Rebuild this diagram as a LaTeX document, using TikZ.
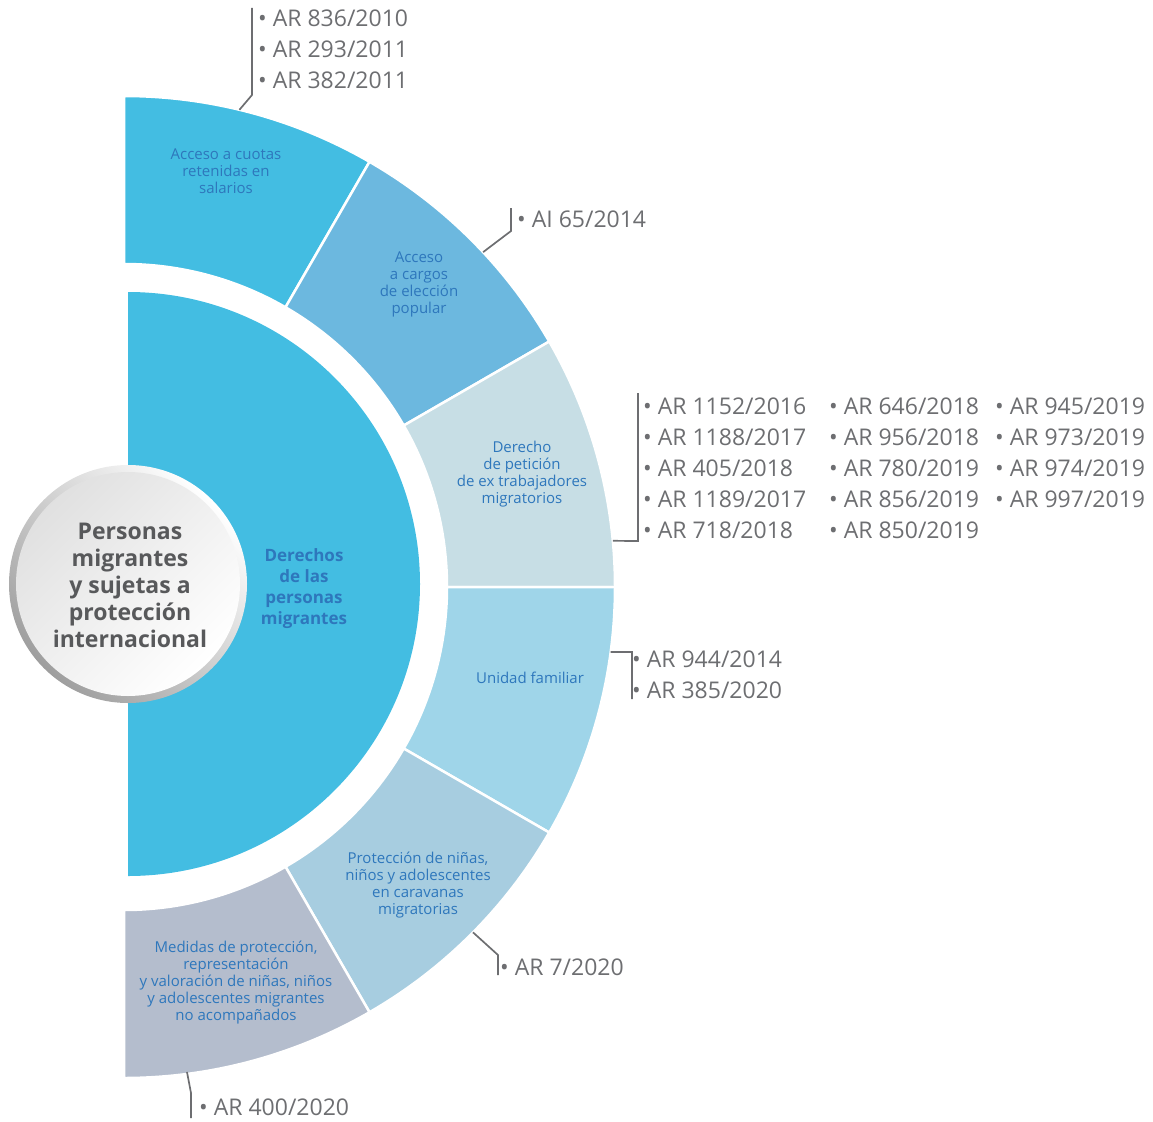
\documentclass[tikz,border=0pt]{standalone}
\usepackage{fontspec}
\setmainfont{Open Sans}
\definecolor{ringcyan}{HTML}{43BDE2}
\definecolor{cargoscol}{HTML}{6CB8DF}
\definecolor{peticioncol}{HTML}{C7DEE5}
\definecolor{unidadcol}{HTML}{9FD5E9}
\definecolor{proteccol}{HTML}{A7CDE0}
\definecolor{medidascol}{HTML}{B4BDCD}
\definecolor{segblue}{HTML}{2E77BC}
\definecolor{labelgray}{HTML}{6D6E71}
\definecolor{circgray}{HTML}{58595B}
\newcommand\ringsec[3]{%
  \fill[#3, draw=white, line width=2.5pt] (#1:323) arc[start angle=#1, end angle=#2, radius=323]
    -- (#2:491) arc[start angle=#2, end angle=#1, radius=491] -- cycle;}
\begin{document}
\begin{tikzpicture}[x=1pt,y=1pt,
  lbl/.style={anchor=base west, text=labelgray, font=\fontsize{23}{28}\selectfont, inner sep=0pt},
  segtext/.style={align=center, text=segblue, font=\fontsize{15}{17}\selectfont, inner sep=0pt},
  conn/.style={draw=labelgray, line width=1.7pt, line join=miter}]
\useasboundingbox (0,0) rectangle (1153,-1121);
% central half disc
\fill[ringcyan] (128,-292) arc[start angle=90, end angle=-90, radius=292] -- cycle;
% ring
\begin{scope}[shift={(124,-587)}]
\ringsec{60}{90}{ringcyan}
\ringsec{30}{60}{cargoscol}
\ringsec{0}{30}{peticioncol}
\ringsec{-30}{0}{unidadcol}
\ringsec{-60}{-30}{proteccol}
\ringsec{-90}{-60}{medidascol}
\coordinate (c1a) at (76.4:491);
\coordinate (c2a) at (43:491);
\coordinate (c3a) at (5.4:491);
\coordinate (c4a) at (-7.6:491);
\coordinate (c5a) at (-44.7:491);
\coordinate (c6a) at (-82.6:489);
\end{scope}
% small circle
\shade[shading=axis, top color=white, bottom color=black!38, shading angle=-45] (128,-584) circle[radius=119];
\shade[shading=axis, top color=black!12, bottom color=white, shading angle=45] (128,-584) circle[radius=112];
\node[align=center, text=circgray, font=\bfseries\fontsize{23}{27}\selectfont, inner sep=0pt] (circ) at (130,-585)
  {Personas\\migrantes\\y sujetas a\\protección\\internacional};
% segment texts
\node[segtext, font=\bfseries\fontsize{17}{21}\selectfont] (center) at (304,-589) {Derechos\\de las\\personas\\migrantes};
\node[segtext] (cuotas) at (226,-171) {Acceso a cuotas\\retenidas en\\salarios};
\node[segtext] (cargos) at (419,-284) {Acceso\\a cargos\\de elección\\popular};
\node[segtext] (peticion) at (522,-474) {Derecho\\de petición\\de ex trabajadores\\migratorios};
\node[segtext] (unidad) at (530,-678) {Unidad familiar};
\node[segtext] (protec) at (418,-885) {Protección de niñas,\\niños y adolescentes\\en caravanas\\migratorias};
\node[segtext] (medidas) at (236,-983) {Medidas de protección,\\representación\\y valoración de niñas, niños\\y adolescentes migrantes\\no acompañados};
% labels
\node[lbl] (l1) at (258,-27) {• AR 836/2010};
\node[lbl] (l2) at (258,-58) {• AR 293/2011};
\node[lbl] (l3) at (258,-89) {• AR 382/2011};
\node[lbl] (l4) at (517,-227) {• AI 65/2014};
\node[lbl] (p11) at (643,-414) {• AR 1152/2016};
\node[lbl] (p12) at (643,-445) {• AR 1188/2017};
\node[lbl] (p13) at (643,-476) {• AR 405/2018};
\node[lbl] (p14) at (643,-507) {• AR 1189/2017};
\node[lbl] (p15) at (643,-538) {• AR 718/2018};
\node[lbl] (p21) at (829,-414) {• AR 646/2018};
\node[lbl] (p22) at (829,-445) {• AR 956/2018};
\node[lbl] (p23) at (829,-476) {• AR 780/2019};
\node[lbl] (p24) at (829,-507) {• AR 856/2019};
\node[lbl] (p25) at (829,-538) {• AR 850/2019};
\node[lbl] (p31) at (995,-414) {• AR 945/2019};
\node[lbl] (p32) at (995,-445) {• AR 973/2019};
\node[lbl] (p33) at (995,-476) {• AR 974/2019};
\node[lbl] (p34) at (995,-507) {• AR 997/2019};
\node[lbl] (u1) at (632,-667) {• AR 944/2014};
\node[lbl] (u2) at (632,-698) {• AR 385/2020};
\node[lbl] (r7) at (500,-975) {• AR 7/2020};
\node[lbl] (r400) at (199,-1115) {• AR 400/2020};
% connector bends
\coordinate (c1b) at (252,-95);  \coordinate (c1c) at (252,-8);
\coordinate (c2b) at (511,-231); \coordinate (c2c) at (511,-208);
\coordinate (c3b) at (638,-541); \coordinate (c3c) at (638,-393);
\coordinate (c4b) at (632,-652); \coordinate (c4c) at (632,-699);
\coordinate (c5b) at (498,-955); \coordinate (c5c) at (498,-975);
\coordinate (c6b) at (191,-1093); \coordinate (c6c) at (191,-1118);
\draw[conn] (c1a) -- (c1b) -- (c1c);
\draw[conn] (c2a) -- (c2b) -- (c2c);
\draw[conn] (c3a) -- (c3b) -- (c3c);
\draw[conn] (c4a) -- (c4b) -- (c4c);
\draw[conn] (c5a) -- (c5b) -- (c5c);
\draw[conn] (c6a) -- (c6b) -- (c6c);
\end{tikzpicture}
\end{document}
